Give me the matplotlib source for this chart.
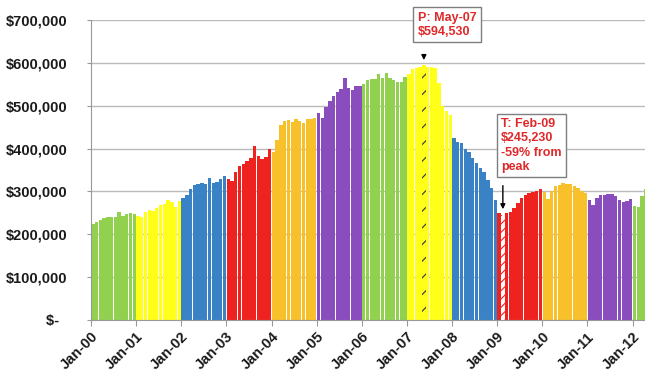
import numpy as np
import matplotlib
matplotlib.use('Agg')
import matplotlib.pyplot as plt

# median price by month, in $ thousands, Jan-00 .. Apr-12
y2000 = [225, 228, 233, 237, 240, 241, 241, 252, 243, 248, 249, 247]
y2001 = [243, 240, 252, 256, 255, 262, 268, 270, 281, 275, 263, 278]
y2002 = [285, 292, 305, 315, 318, 320, 318, 331, 320, 322, 328, 336]
y2003 = [330, 325, 345, 360, 365, 372, 378, 405, 382, 375, 380, 400]
y2004 = [393, 420, 455, 465, 467, 462, 470, 465, 460, 468, 470, 472]
y2005 = [482, 472, 497, 510, 522, 533, 540, 565, 542, 536, 545, 545]
y2006 = [550, 560, 563, 562, 575, 565, 576, 564, 560, 556, 555, 566]
y2007 = [575, 585, 588, 590, 594.53, 591, 590, 589, 552, 500, 487, 478]
y2008 = [424, 416, 413, 400, 392, 377, 367, 354, 345, 327, 307, 280]
y2009 = [250, 245.23, 249, 253, 262, 272, 285, 292, 297, 299, 302, 305]
y2010 = [298, 282, 300, 312, 316, 319, 318, 317, 313, 307, 302, 297]
y2011 = [280, 268, 284, 291, 292, 293, 295, 290, 281, 276, 278, 283]
y2012 = [266, 264, 290, 305]

years = [y2000, y2001, y2002, y2003, y2004, y2005, y2006,
         y2007, y2008, y2009, y2010, y2011, y2012]
year_labels = ['Jan-%02d' % i for i in range(13)]
year_colors = ['#92D050', '#FFFF1A', '#3A82C6', '#EE2320', '#F8C12C', '#8A4DBE']

peak_idx = 7 * 12 + 4     # May-07
trough_idx = 9 * 12 + 1   # Feb-09

values = []
colors = []
for i, yr in enumerate(years):
    values += yr
    colors += [year_colors[i % 6]] * len(yr)
values = np.array(values) * 1000
x = np.arange(len(values)) + 0.5

plt.rcParams['hatch.linewidth'] = 0.8

fig = plt.figure(figsize=(6.45, 3.74), dpi=100)
ax = fig.add_axes([0.141, 0.1444, 0.862, 0.8021])

bars = ax.bar(x, values, width=0.9, color=colors, linewidth=0, zorder=2)

# highlighted peak / trough bars
ax.bar(x[peak_idx], values[peak_idx], width=0.9, color=colors[peak_idx],
       edgecolor='#333333', hatch='//', linewidth=0, zorder=3)
ax.bar(x[trough_idx], values[trough_idx], width=0.9, color='white',
       edgecolor=colors[trough_idx], hatch='////', linewidth=0, zorder=3)
bars[peak_idx].set_visible(False)
bars[trough_idx].set_visible(False)

ax.set_ylim(0, 700000)
ax.set_xlim(0, 147.8)
yt = np.arange(0, 700001, 100000)
ax.set_yticks(yt)
ax.set_yticklabels(['$-  '] + ['${:,.0f}'.format(v) for v in yt[1:]],
                   fontsize=10.5, fontweight='bold', color='#1a1a1a',
                   family='Liberation Sans')
ax.set_xticks(np.arange(13) * 12)
ax.set_xticklabels(year_labels, rotation=45, ha='right',
                   rotation_mode='anchor', fontsize=10.5, fontweight='bold',
                   color='#1a1a1a', family='Liberation Sans')
ax.tick_params(axis='y', length=3, color='#999999', pad=14)
ax.tick_params(axis='x', length=4, color='#999999', pad=3)
ax.grid(axis='y', color='#BBBBBB', linewidth=1, zorder=0)
ax.set_axisbelow(True)
for s in ['top', 'right']:
    ax.spines[s].set_visible(False)
ax.spines['left'].set_color('#999999')
ax.spines['bottom'].set_color('#999999')

box = dict(boxstyle='square,pad=0.35', facecolor='white', edgecolor='#7F7F7F',
           linewidth=1)
ax.text(86.9, 719000, 'P: May-07\n$594,530', ha='left', va='top',
        fontsize=9, fontweight='bold', color='#E0282A', family='Liberation Sans',
        bbox=box, clip_on=False, zorder=5, linespacing=1.25)
ax.annotate('', xy=(x[peak_idx], 600000), xytext=(x[peak_idx], 626000),
            arrowprops=dict(arrowstyle='-|>', color='black', lw=1,
                            mutation_scale=7), zorder=5)

ax.text(109.0, 471000, 'T: Feb-09\n$245,230\n-59% from\npeak', ha='left',
        va='top', fontsize=9, fontweight='bold', color='#E0282A',
        family='Liberation Sans', bbox=box, zorder=5, linespacing=1.25)
ax.annotate('', xy=(x[trough_idx], 252000), xytext=(x[trough_idx], 320000),
            arrowprops=dict(arrowstyle='-|>', color='black', lw=1,
                            mutation_scale=7), zorder=5)

fig.savefig('out.png', dpi=100)
